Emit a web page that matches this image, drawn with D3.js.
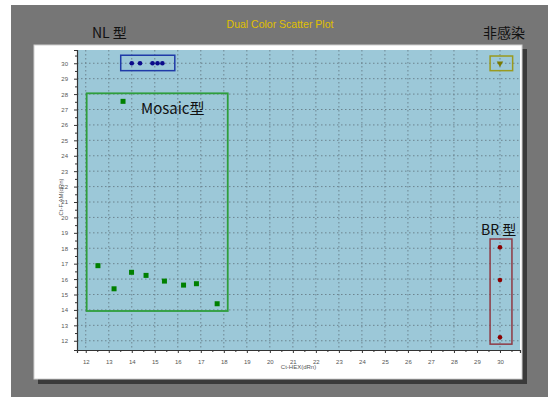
<!DOCTYPE html>
<html>
<head>
<meta charset="utf-8">
<script src="https://cdn.jsdelivr.net/npm/d3@7"></script>
<style>
  html, body { margin: 0; padding: 0; background: #ffffff; }
  svg { display: block; }
</style>
</head>
<body>
<svg id="chart" width="548" height="397"></svg>
<script>
// Axis ticks
const xTicks = [12, 13, 14, 15, 16, 17, 18, 19, 20, 21, 22, 23, 24, 25, 26, 27, 28, 29, 30];
const yTicks = [12, 13, 14, 15, 16, 17, 18, 19, 20, 21, 22, 23, 24, 25, 26, 27, 28, 29, 30];

// NL group (Ct-HEX, Ct-FAM)
const nlX = [14.0, 14.36, 14.9, 15.12, 15.33];
const nlY = [30, 30, 30, 30, 30];

// Mosaic group
const mosaicX = [13.62, 12.53, 13.23, 13.99, 14.62, 15.42, 16.25, 16.81, 17.71];
const mosaicY = [27.53, 16.87, 15.37, 16.44, 16.24, 15.87, 15.61, 15.70, 14.40];

// BR group
const brX = [30, 30, 30];
const brY = [18.06, 15.94, 12.22];

// Non-infected
const niX = [30];
const niY = [30];

// Group boxes: [xMin, xMax, yMin, yMax]
const nlBox = [13.52, 15.87, 29.52, 30.52];
const mosaicBox = [12.04, 18.17, 13.93, 28.05];
const brBox = [29.57, 30.52, 11.78, 18.6];
const niBox = [29.57, 30.55, 29.52, 30.47];

const svg = d3.select("#chart");
const W = 548, H = 397;

// background frame
svg.append("rect").attr("x", 0).attr("y", 0).attr("width", W).attr("height", H).attr("fill", "#ffffff");
svg.append("rect").attr("x", 11).attr("y", 5).attr("width", W - 11).attr("height", H - 5).attr("fill", "#767676");
// panel shadow
svg.append("rect").attr("x", 38).attr("y", 49).attr("width", 489).attr("height", 335).attr("fill", "#3a3a3a");
// white panel
svg.append("rect").attr("x", 34).attr("y", 45).attr("width", 488).attr("height", 334)
  .attr("fill", "#ffffff").attr("stroke", "#d0d0d0").attr("stroke-width", 1);

const plot = { left: 77, right: 520, top: 50, bottom: 350 };
const x = d3.scaleLinear().domain([11.62, 30.87]).range([plot.left, plot.right]);
const y = d3.scaleLinear().domain([11.4, 30.86]).range([plot.bottom, plot.top]);

// plot area
svg.append("rect").attr("x", plot.left).attr("y", plot.top)
  .attr("width", plot.right - plot.left).attr("height", plot.bottom - plot.top)
  .attr("fill", "#9cc8d8");

// dotted grid
const grid = svg.append("g").attr("stroke", "#687d88").attr("stroke-width", 0.9).attr("stroke-dasharray", "1.5,2.5");
grid.selectAll("line.v").data(xTicks).join("line").attr("class", "v")
  .attr("x1", d => x(d)).attr("x2", d => x(d)).attr("y1", plot.top).attr("y2", plot.bottom);
grid.selectAll("line.h").data(yTicks).join("line").attr("class", "h")
  .attr("y1", d => y(d)).attr("y2", d => y(d)).attr("x1", plot.left).attr("x2", plot.right);

// minor ticks at half units
const xMinor = xTicks.map(d => d + 0.5).filter(d => d < 30.87);
const yMinor = yTicks.map(d => d + 0.5).filter(d => d < 30.86);

// x axis
const xAxis = svg.append("g").attr("transform", `translate(0,${plot.bottom})`)
  .call(d3.axisBottom(x).tickValues(xTicks).tickSize(3).tickFormat(d3.format("d")));
svg.append("g").attr("transform", `translate(0,${plot.bottom})`)
  .call(d3.axisBottom(x).tickValues(xMinor).tickSize(2).tickFormat(""))
  .select(".domain").remove();
// y axis
const yAxis = svg.append("g").attr("transform", `translate(${plot.left},0)`)
  .call(d3.axisLeft(y).tickValues(yTicks).tickSize(3).tickFormat(d3.format("d")));
svg.append("g").attr("transform", `translate(${plot.left},0)`)
  .call(d3.axisLeft(y).tickValues(yMinor).tickSize(2).tickFormat(""))
  .select(".domain").remove();

svg.selectAll(".domain").attr("stroke", "#333").attr("stroke-width", 1.2);
svg.selectAll(".tick line").attr("stroke", "#333");
svg.selectAll(".tick text").attr("font-family", "Liberation Sans, Arial, sans-serif")
  .attr("font-size", 6).attr("fill", "#555");
xAxis.selectAll(".tick text").attr("dy", "1.3em");
yAxis.selectAll(".tick text").attr("dx", "-0.5em");

// axis titles
svg.append("text").attr("x", (plot.left + plot.right) / 2).attr("y", 369)
  .attr("text-anchor", "middle").attr("font-family", "Liberation Sans, Arial, sans-serif")
  .attr("font-size", 6).attr("fill", "#555").text("Ct-HEX(dRn)");
svg.append("text").attr("transform", `translate(63,197) rotate(-90)`)
  .attr("text-anchor", "middle").attr("font-family", "Liberation Sans, Arial, sans-serif")
  .attr("font-size", 6).attr("fill", "#555").text("Ct-F AM(dRn)");

// group boxes
function drawBox(b, color, w) {
  svg.append("rect")
    .attr("x", x(b[0])).attr("y", y(b[3]))
    .attr("width", x(b[1]) - x(b[0])).attr("height", y(b[2]) - y(b[3]))
    .attr("fill", "none").attr("stroke", color).attr("stroke-width", w);
}
drawBox(nlBox, "#1f3aa8", 1.5);
drawBox(mosaicBox, "#2e9e3c", 1.8);
drawBox(brBox, "#8e3a44", 1.5);
drawBox(niBox, "#9a9a1e", 1.5);

// points
const nlData = nlX.map((d, i) => [d, nlY[i]]);
svg.append("g").selectAll("circle").data(nlData).join("circle")
  .attr("cx", d => x(d[0])).attr("cy", d => y(d[1])).attr("r", 2.3).attr("fill", "#0a0a8a");

const mosaicData = mosaicX.map((d, i) => [d, mosaicY[i]]);
svg.append("g").selectAll("rect").data(mosaicData).join("rect")
  .attr("x", d => x(d[0]) - 2.5).attr("y", d => y(d[1]) - 2.5)
  .attr("width", 5).attr("height", 5).attr("fill", "#008000");

const brData = brX.map((d, i) => [d, brY[i]]);
svg.append("g").selectAll("circle").data(brData).join("circle")
  .attr("cx", d => x(d[0])).attr("cy", d => y(d[1])).attr("r", 2.3).attr("fill", "#8b0000");

const niData = niX.map((d, i) => [d, niY[i]]);
svg.append("g").selectAll("path").data(niData).join("path")
  .attr("d", d3.symbol(d3.symbolTriangle, 18))
  .attr("transform", d => `translate(${x(d[0])},${y(d[1])}) rotate(180)`)
  .attr("fill", "#7a7a00");

// title and group labels
svg.append("text").attr("x", 280).attr("y", 28).attr("text-anchor", "middle")
  .attr("font-family", "Liberation Sans, Arial, sans-serif").attr("font-size", 10.5)
  .attr("fill", "#e0c000").text("Dual Color Scatter Plot");

const cjk = "'Noto Sans CJK SC', 'Noto Sans', sans-serif";
svg.append("text").attr("x", 92).attr("y", 38).attr("font-family", cjk)
  .attr("font-size", 14).attr("fill", "#111").text("NL 型");
svg.append("text").attr("x", 525).attr("y", 38).attr("text-anchor", "end").attr("font-family", cjk)
  .attr("font-size", 14).attr("fill", "#111").text("非感染");
svg.append("text").attr("x", 141).attr("y", 114).attr("font-family", cjk)
  .attr("font-size", 15).attr("fill", "#111").text("Mosaic型");
svg.append("text").attr("x", 481).attr("y", 235).attr("font-family", cjk)
  .attr("font-size", 14).attr("fill", "#111").text("BR 型");
</script>
</body>
</html>
